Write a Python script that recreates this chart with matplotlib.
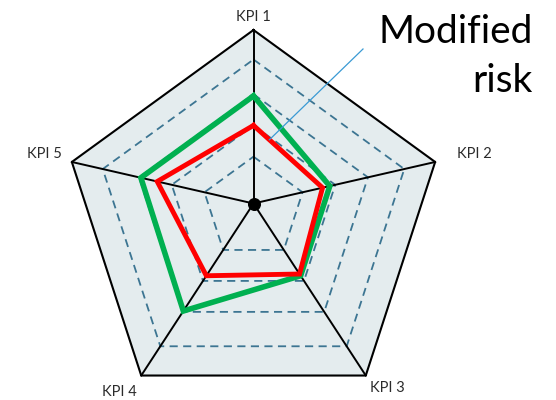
import numpy as np
import matplotlib
matplotlib.use("Agg")
import matplotlib.pyplot as plt

# KPI names and the two score profiles (fraction of full scale on each spoke)
kpis = ["KPI 1", "KPI 2", "KPI 3", "KPI 4", "KPI 5"]
modified_risk = [0.45, 0.38, 0.41, 0.42, 0.53]
baseline_risk = [0.62, 0.42, 0.42, 0.625, 0.62]
grid_levels = [0.27, 0.45, 0.63, 0.83]
callout_lines = ["Modified", "risk"]

# Frame geometry (drawing units = pixels, y pointing down)
cx, cy, R = 253.5, 221.0, 191.0      # centre / radius of outer pentagon
hub = np.array([253.5, 203.5])        # point where the spokes meet

angles = np.deg2rad(90 - 72 * np.arange(5))
verts = np.column_stack([cx + R * np.cos(angles), cy - R * np.sin(angles)])


def ring(frac):
    pts = hub + np.asarray(frac)[:, None] * (verts - hub)
    return np.vstack([pts, pts[:1]])


fig = plt.figure(figsize=(5.56, 4.0), dpi=100)
ax = fig.add_axes([0, 0, 1, 1])
ax.set_xlim(0, 556)
ax.set_ylim(400, 0)
ax.axis("off")

outer = np.vstack([verts, verts[:1]])
ax.fill(outer[:, 0], outer[:, 1], color="#e4ecee", zorder=1)

for lvl in grid_levels:
    p = ring([lvl] * 5)
    ax.plot(p[:, 0], p[:, 1], color="#3c7592", lw=1.3,
            dashes=(4.5, 3.0), zorder=2)

for v in verts:
    ax.plot([hub[0], v[0]], [hub[1], v[1]], color="black", lw=1.4, zorder=3)
ax.plot(outer[:, 0], outer[:, 1], color="black", lw=1.5, zorder=3)

g = ring(baseline_risk)
ax.plot(g[:, 0], g[:, 1], color="#00b050", lw=4.0,
        solid_joinstyle="miter", zorder=4)
r = ring(modified_risk)
ax.plot(r[:, 0], r[:, 1], color="#ff0000", lw=3.5,
        solid_joinstyle="miter", zorder=5)

ax.scatter([hub[0]], [hub[1]], s=70, color="black", zorder=6)

# KPI labels around the pentagon
label_offsets = [(0, -13), (39, -8), (22, 12), (-22, 16), (-27, -8)]
for name, v, (dx, dy) in zip(kpis, verts, label_offsets):
    ax.text(v[0] + dx, v[1] + dy, name, ha="center", va="center",
            fontsize=10.5, family="Lato", color="#2b2b2b", zorder=7)

# Callout for the modified-risk profile
for i, line in enumerate(callout_lines):
    ax.text(533, 43 + 49 * i, line, ha="right", va="baseline",
            fontsize=28, family="Lato", color="black", zorder=8)
edge_pt = r[0] + 0.23 * (r[1] - r[0])
ax.plot([363, edge_pt[0]], [49, edge_pt[1]], color="#3a9ad4", lw=0.9,
        zorder=8)

fig.savefig("out.png", dpi=100)
